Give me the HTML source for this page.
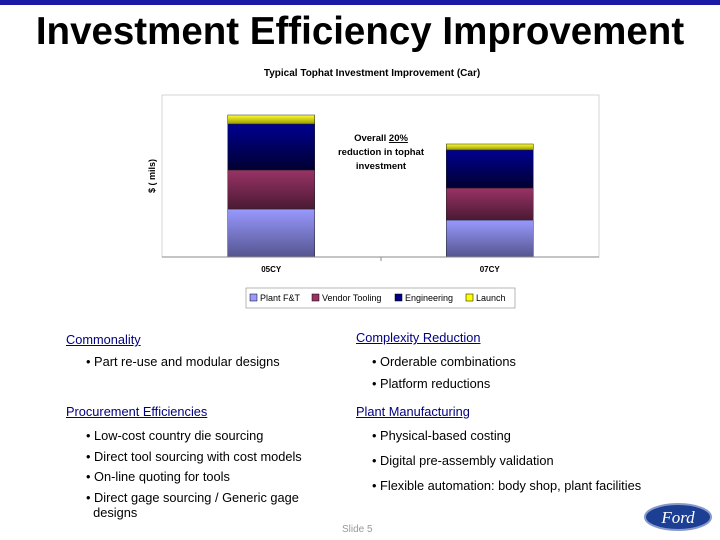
<!DOCTYPE html>
<html><head><meta charset="utf-8"><style>
body{margin:0;width:720px;height:540px;background:#fff;position:relative;overflow:hidden;font-family:"Liberation Sans",sans-serif}
.t{position:absolute;font-size:12.8px;color:#000;white-space:nowrap}
.h{color:#000080;text-decoration:underline}
</style></head><body>
<div style="position:absolute;left:0;top:0;width:720px;height:5px;background:#1a1aa6"></div>
<div style="position:absolute;left:0;top:10px;width:720px;text-align:center;font-size:38.5px;font-weight:bold">Investment Efficiency Improvement</div>
<svg width="720" height="540" style="position:absolute;left:0;top:0">
<defs>
<linearGradient id="g0" x1="0" y1="0" x2="0" y2="1"><stop offset="0" stop-color="#9999ff"/><stop offset="1" stop-color="#55558f"/></linearGradient>
<linearGradient id="g1" x1="0" y1="0" x2="0" y2="1"><stop offset="0" stop-color="#993366"/><stop offset="1" stop-color="#4a1a33"/></linearGradient>
<linearGradient id="g2" x1="0" y1="0" x2="0" y2="1"><stop offset="0" stop-color="#000090"/><stop offset="1" stop-color="#000030"/></linearGradient>
<linearGradient id="g3" x1="0" y1="0" x2="0" y2="1"><stop offset="0" stop-color="#ffff33"/><stop offset="1" stop-color="#999900"/></linearGradient>
</defs>
<text x="372" y="76" text-anchor="middle" font-size="10" font-weight="bold">Typical Tophat Investment Improvement (Car)</text>
<text transform="translate(155,176) rotate(-90)" text-anchor="middle" font-size="9" font-weight="bold">$ ( mils)</text>
<rect x="162" y="95" width="437" height="162" fill="#fff" stroke="#ccc" stroke-width="0.8"/>
<g id="bars"></g>
<line x1="162" y1="257" x2="599" y2="257" stroke="#888"/>
<line x1="381" y1="257" x2="381" y2="261" stroke="#888"/>
<text font-size="9.5" font-weight="bold" text-anchor="middle"><tspan x="381" y="141">Overall <tspan text-decoration="underline">20%</tspan></tspan><tspan x="381" y="155">reduction in tophat</tspan><tspan x="381" y="169">investment</tspan></text>
<g id="xl"></g>
<rect x="246" y="288" width="269" height="20" fill="none" stroke="#888" stroke-width="0.6"/>
<g id="leg"></g>
</svg>
<script>
const categories=["05CY","07CY"];
const plantFT=[48,37];
const vendorTooling=[39,32];
const engineering=[46,38];
const launch=[9,6];
const seriesNames=["Plant F&T","Vendor Tooling","Engineering","Launch"];
const yMax=162;
const ns="http://www.w3.org/2000/svg";
const x0=162,pw=437,base=257,ph=162;
const ys=v=>v/yMax*ph;
const xc=i=>x0+pw*(i+0.5)/categories.length;
const series=[plantFT,vendorTooling,engineering,launch];
const bg=document.getElementById('bars'),xl=document.getElementById('xl'),lg=document.getElementById('leg');
categories.forEach((c,i)=>{
  let acc=0;
  series.forEach((s,k)=>{
    const r=document.createElementNS(ns,'rect');
    const h=ys(s[i]);
    r.setAttribute('x',xc(i)-43.5);r.setAttribute('width',87);
    r.setAttribute('y',base-ys(acc)-h);r.setAttribute('height',h);
    r.setAttribute('fill','url(#g'+k+')');r.setAttribute('stroke','#222');r.setAttribute('stroke-width','0.5');
    
    
    bg.appendChild(r);acc+=s[i];
  });
  const t=document.createElementNS(ns,'text');
  t.setAttribute('x',xc(i));t.setAttribute('y',272);t.setAttribute('text-anchor','middle');t.setAttribute('font-size','8');t.setAttribute('font-weight','bold');
  t.textContent=c;
  
  
  xl.appendChild(t);
});
const lx=[250,312,395,466],sw=['#9999ff','#993366','#000080','#ffff00'];
seriesNames.forEach((n,k)=>{
  const r=document.createElementNS(ns,'rect');
  r.setAttribute('x',lx[k]);r.setAttribute('y',294);r.setAttribute('width',7);r.setAttribute('height',7);r.setAttribute('fill',sw[k]);r.setAttribute('stroke','#000');r.setAttribute('stroke-width','0.5');
  
  
  lg.appendChild(r);
  const t=document.createElementNS(ns,'text');
  t.setAttribute('x',lx[k]+10);t.setAttribute('y',301);t.setAttribute('font-size','9');
  t.textContent=n;
  
  
  lg.appendChild(t);
});
</script>
<div class="t h" style="left:66px;top:332px">Commonality</div>
<div class="t" style="left:86px;top:354px">• Part re-use and modular designs</div>
<div class="t h" style="left:356px;top:330px">Complexity Reduction</div>
<div class="t" style="left:372px;top:354px">• Orderable combinations</div>
<div class="t" style="left:372px;top:376px">• Platform reductions</div>
<div class="t h" style="left:66px;top:404px">Procurement Efficiencies</div>
<div class="t" style="left:86px;top:428px">• Low-cost country die sourcing</div>
<div class="t" style="left:86px;top:449px">• Direct tool sourcing with cost models</div>
<div class="t" style="left:86px;top:469px">• On-line quoting for tools</div>
<div class="t" style="left:86px;top:490px;white-space:normal;width:240px;line-height:15px">• Direct gage sourcing / Generic gage &nbsp;&nbsp;designs</div>
<div class="t h" style="left:356px;top:404px">Plant Manufacturing</div>
<div class="t" style="left:372px;top:428px">• Physical-based costing</div>
<div class="t" style="left:372px;top:453px">• Digital pre-assembly validation</div>
<div class="t" style="left:372px;top:478px">• Flexible automation: body shop, plant facilities</div>
<div class="t" style="left:342px;top:524px;font-size:10px;color:#999">Slide 5</div>
<svg width="70" height="30" style="position:absolute;left:643px;top:502px">
<ellipse cx="35" cy="15" rx="33" ry="13" fill="#1c3f94" stroke="#8899cc" stroke-width="2"/>
<text x="35" y="21" text-anchor="middle" font-family="Liberation Serif,serif" font-style="italic" font-size="17" fill="#fff">Ford</text>
</svg>
</body></html>
